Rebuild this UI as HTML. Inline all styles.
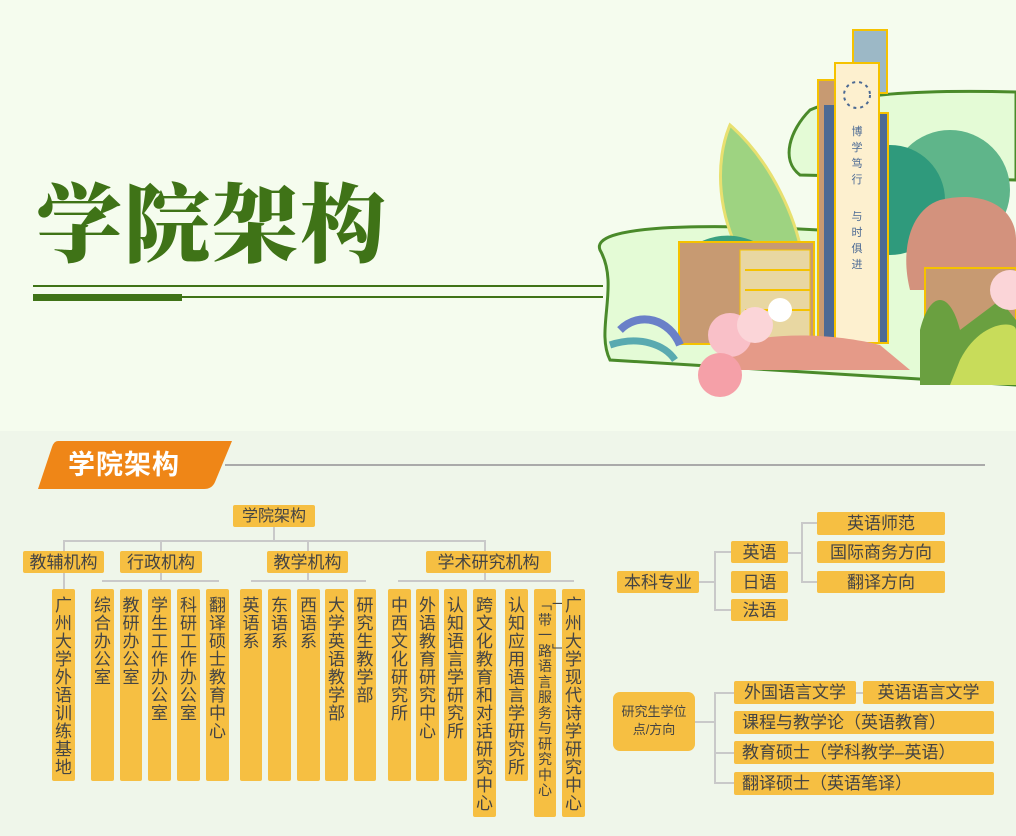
<!DOCTYPE html>
<html><head><meta charset="utf-8"><style>
*{margin:0;padding:0;box-sizing:border-box}
body{width:1016px;height:836px;overflow:hidden;background:#f5fcee;position:relative;font-family:"Liberation Sans","Noto Sans CJK SC",sans-serif}
.abs{position:absolute}
.b{position:absolute;background:#f6bf42;color:#444;border-radius:2px;text-align:center;font-size:16px;line-height:23px;white-space:nowrap}
.v{position:absolute;background:#f6bf42;color:#444;border-radius:2px;font-size:17px;line-height:18px;padding-top:8px;text-align:center}
.v span{display:block;width:17px;margin:0 auto;word-break:break-all;white-space:normal}
.l{position:absolute;background:#c9c9c9}
</style></head><body>
<div class="abs" style="left:0;top:431px;width:1016px;height:405px;background:#eff6ea"></div>

<div class="abs" style="left:36px;top:168px;font-family:'Noto Serif CJK SC',serif;font-weight:900;font-size:86px;line-height:100px;color:#3f7317;letter-spacing:2px">学院架构</div>
<div class="abs" style="left:33px;top:285px;width:570px;height:2px;background:#3f7317"></div>
<div class="abs" style="left:33px;top:296px;width:570px;height:2px;background:#3f7317"></div>
<div class="abs" style="left:33px;top:294px;width:149px;height:7px;background:#3f7317"></div>

<svg class="abs" style="left:580px;top:0" width="436" height="430" viewBox="0 0 436 430">
<path d="M20 250 C10 225 120 225 200 228 L436 240 L436 385 L30 360 C15 330 40 285 20 250Z" fill="#e4fbd6" stroke="#4a8a2a" stroke-width="3"/>
<path d="M230 110 C210 130 200 160 220 175 L436 180 L436 92 C360 90 270 92 230 110Z" fill="#e4fbd6" stroke="#4a8a2a" stroke-width="3"/>
<circle cx="370" cy="190" r="60" fill="#5fb58a"/>
<circle cx="310" cy="200" r="55" fill="#2f9a7c"/>
<path d="M360 200 C400 190 436 205 436 240 L436 290 L330 290 C320 250 330 210 360 200Z" fill="#d3927d"/>
<path d="M150 125 C190 160 220 220 225 275 L170 270 C135 220 135 160 150 125Z" fill="#9ed381" stroke="#e8e070" stroke-width="3"/>
<path d="M100 255 C130 230 160 230 190 250 L190 300 L100 300Z" fill="#3aa080"/>
<rect x="99" y="242" width="135" height="102" fill="#c79a72" stroke="#f5c200" stroke-width="2"/>
<rect x="160" y="250" width="70" height="90" fill="#e8d7a2" stroke="#f5c200"/>
<g stroke="#f5c200" stroke-width="2"><line x1="165" y1="270" x2="230" y2="270"/><line x1="165" y1="290" x2="230" y2="290"/><line x1="165" y1="310" x2="230" y2="310"/></g>
<rect x="345" y="268" width="91" height="70" fill="#c79a72" stroke="#f5c200" stroke-width="2"/>
<rect x="273" y="30" width="34" height="63" fill="#9cb8c6" stroke="#f5c200" stroke-width="2"/>
<rect x="238" y="80" width="17" height="263" fill="#c79a72" stroke="#f5c200" stroke-width="2"/>
<rect x="244" y="105" width="12" height="238" fill="#4c6a94"/>
<rect x="298" y="113" width="10" height="230" fill="#4c6a94" stroke="#f5c200" stroke-width="2"/>
<rect x="255" y="63" width="44" height="280" fill="#fdf0cf" stroke="#f5c200" stroke-width="2"/>
<circle cx="277" cy="95" r="13" fill="none" stroke="#4c6a94" stroke-width="2" stroke-dasharray="3 4"/>
<text x="277" y="135" font-size="11" fill="#4c6a94" text-anchor="middle" font-family="Noto Sans CJK SC">博</text>
<text x="277" y="151" font-size="11" fill="#4c6a94" text-anchor="middle" font-family="Noto Sans CJK SC">学</text>
<text x="277" y="167" font-size="11" fill="#4c6a94" text-anchor="middle" font-family="Noto Sans CJK SC">笃</text>
<text x="277" y="183" font-size="11" fill="#4c6a94" text-anchor="middle" font-family="Noto Sans CJK SC">行</text>
<text x="277" y="220" font-size="11" fill="#4c6a94" text-anchor="middle" font-family="Noto Sans CJK SC">与</text>
<text x="277" y="236" font-size="11" fill="#4c6a94" text-anchor="middle" font-family="Noto Sans CJK SC">时</text>
<text x="277" y="252" font-size="11" fill="#4c6a94" text-anchor="middle" font-family="Noto Sans CJK SC">俱</text>
<text x="277" y="268" font-size="11" fill="#4c6a94" text-anchor="middle" font-family="Noto Sans CJK SC">进</text>
<path d="M40 330 C60 310 90 320 100 345" stroke="#6a80c8" stroke-width="8" fill="none"/>
<path d="M30 345 C60 335 85 345 95 360" stroke="#5aaab0" stroke-width="7" fill="none"/>
<path d="M340 330 C350 290 370 290 380 330 L420 300 L436 320 L436 385 L340 385Z" fill="#6aa040"/>
<path d="M380 360 C400 320 436 320 436 330 L436 385 L370 385Z" fill="#c8dc5a"/>
<path d="M150 345 C200 330 260 335 300 345 L330 370 L150 370Z" fill="#e59a88"/>
<circle cx="150" cy="335" r="22" fill="#f9c0c8"/>
<circle cx="175" cy="325" r="18" fill="#fbd5d8"/>
<circle cx="140" cy="375" r="22" fill="#f5a0a8"/>
<circle cx="200" cy="310" r="12" fill="#fff"/>
<circle cx="430" cy="290" r="20" fill="#fbd5d8"/>
</svg>

<svg class="abs" style="left:0;top:430px" width="1016" height="70">
<line x1="225" y1="35" x2="985" y2="35" stroke="#aaa" stroke-width="2"/>
<path d="M58 11 L232 11 L215 52 Q212 59 204 59 L38 59 L52 17 Q54 11 58 11Z" fill="#ef8617"/>
</svg>
<div class="abs" style="left:68px;top:447px;font-size:27px;font-weight:bold;color:#fff;line-height:36px;letter-spacing:1px">学院架构</div>

<!-- tree lines -->
<div class="l" style="left:63px;top:540px;width:422px;height:2px"></div>
<div class="l" style="left:273px;top:527px;width:2px;height:14px"></div>
<div class="l" style="left:63px;top:540px;width:2px;height:50px"></div>
<div class="l" style="left:160px;top:540px;width:2px;height:42px"></div>
<div class="l" style="left:307px;top:540px;width:2px;height:42px"></div>
<div class="l" style="left:484px;top:540px;width:2px;height:42px"></div>
<div class="l" style="left:102px;top:580px;width:117px;height:2px"></div>
<div class="l" style="left:251px;top:580px;width:115px;height:2px"></div>
<div class="l" style="left:398px;top:580px;width:176px;height:2px"></div>

<div class="b" style="left:233px;top:505px;width:82px;height:22px">学院架构</div>
<div class="b" style="left:23px;top:551px;width:81px;height:22px;font-size:17px">教辅机构</div>
<div class="b" style="left:120px;top:551px;width:82px;height:22px;font-size:17px">行政机构</div>
<div class="b" style="left:267px;top:551px;width:81px;height:22px;font-size:17px">教学机构</div>
<div class="b" style="left:426px;top:551px;width:125px;height:22px;font-size:17px">学术研究机构</div>

<div class="v" style="left:52px;top:589px;width:23px;height:192px"><span>广州大学外语训练基地</span></div>
<div class="v" style="left:91px;top:589px;width:23px;height:192px"><span>综合办公室</span></div>
<div class="v" style="left:120px;top:589px;width:22px;height:192px"><span>教研办公室</span></div>
<div class="v" style="left:148px;top:589px;width:23px;height:192px"><span>学生工作办公室</span></div>
<div class="v" style="left:177px;top:589px;width:23px;height:192px"><span>科研工作办公室</span></div>
<div class="v" style="left:206px;top:589px;width:23px;height:192px"><span>翻译硕士教育中心</span></div>
<div class="v" style="left:240px;top:589px;width:22px;height:192px"><span>英语系</span></div>
<div class="v" style="left:268px;top:589px;width:23px;height:192px"><span>东语系</span></div>
<div class="v" style="left:297px;top:589px;width:23px;height:192px"><span>西语系</span></div>
<div class="v" style="left:325px;top:589px;width:23px;height:192px"><span>大学英语教学部</span></div>
<div class="v" style="left:354px;top:589px;width:22px;height:192px"><span>研究生教学部</span></div>
<div class="v" style="left:388px;top:589px;width:23px;height:192px"><span>中西文化研究所</span></div>
<div class="v" style="left:416px;top:589px;width:23px;height:192px"><span>外语教育研究中心</span></div>
<div class="v" style="left:444px;top:589px;width:23px;height:192px"><span>认知语言学研究所</span></div>
<div class="v" style="left:473px;top:589px;width:23px;height:228px"><span>跨文化教育和对话研究中心</span></div>
<div class="v" style="left:505px;top:589px;width:23px;height:192px"><span>认知应用语言学研究所</span></div>
<div class="v" style="left:534px;top:589px;width:22px;height:228px;font-size:14px;line-height:15.5px"><span style="width:14px">﹁一带一路﹂语言服务与研究中心</span></div>
<div class="v" style="left:562px;top:589px;width:23px;height:228px"><span>广州大学现代诗学研究中心</span></div>

<!-- right -->
<div class="l" style="left:699px;top:581px;width:16px;height:2px"></div>
<div class="l" style="left:714px;top:551px;width:2px;height:60px"></div>
<div class="l" style="left:714px;top:551px;width:17px;height:2px"></div>
<div class="l" style="left:714px;top:609px;width:17px;height:2px"></div>
<div class="l" style="left:788px;top:552px;width:15px;height:2px"></div>
<div class="l" style="left:801px;top:522px;width:2px;height:61px"></div>
<div class="l" style="left:801px;top:522px;width:16px;height:2px"></div>
<div class="l" style="left:801px;top:581px;width:16px;height:2px"></div>

<div class="b" style="left:617px;top:571px;width:82px;height:22px;font-size:17px">本科专业</div>
<div class="b" style="left:731px;top:541px;width:57px;height:22px;font-size:17px">英语</div>
<div class="b" style="left:731px;top:571px;width:57px;height:22px;font-size:17px">日语</div>
<div class="b" style="left:731px;top:599px;width:57px;height:22px;font-size:17px">法语</div>
<div class="b" style="left:817px;top:512px;width:128px;height:23px;font-size:17px">英语师范</div>
<div class="b" style="left:817px;top:541px;width:128px;height:22px;font-size:17px">国际商务方向</div>
<div class="b" style="left:817px;top:571px;width:128px;height:22px;font-size:17px">翻译方向</div>

<div class="l" style="left:695px;top:721px;width:20px;height:2px"></div>
<div class="l" style="left:714px;top:692px;width:2px;height:92px"></div>
<div class="l" style="left:714px;top:692px;width:20px;height:2px"></div>
<div class="l" style="left:714px;top:752px;width:20px;height:2px"></div>
<div class="l" style="left:714px;top:782px;width:20px;height:2px"></div>
<div class="l" style="left:856px;top:692px;width:8px;height:2px"></div>

<div class="b" style="left:613px;top:692px;width:82px;height:59px;border-radius:7px;font-size:13px;line-height:18px;padding-top:11px;white-space:normal">研究生学位<br>点/方向</div>
<div class="b" style="left:734px;top:681px;width:122px;height:23px;font-size:17px">外国语言文学</div>
<div class="b" style="left:863px;top:681px;width:131px;height:23px;font-size:17px">英语语言文学</div>
<div class="b" style="left:734px;top:711px;width:260px;height:23px;font-size:17px;text-align:left;padding-left:8px">课程与教学论（英语教育）</div>
<div class="b" style="left:734px;top:741px;width:260px;height:23px;font-size:17px;text-align:left;padding-left:8px">教育硕士（学科教学–英语）</div>
<div class="b" style="left:734px;top:772px;width:260px;height:23px;font-size:17px;text-align:left;padding-left:8px">翻译硕士（英语笔译）</div>
</body></html>
